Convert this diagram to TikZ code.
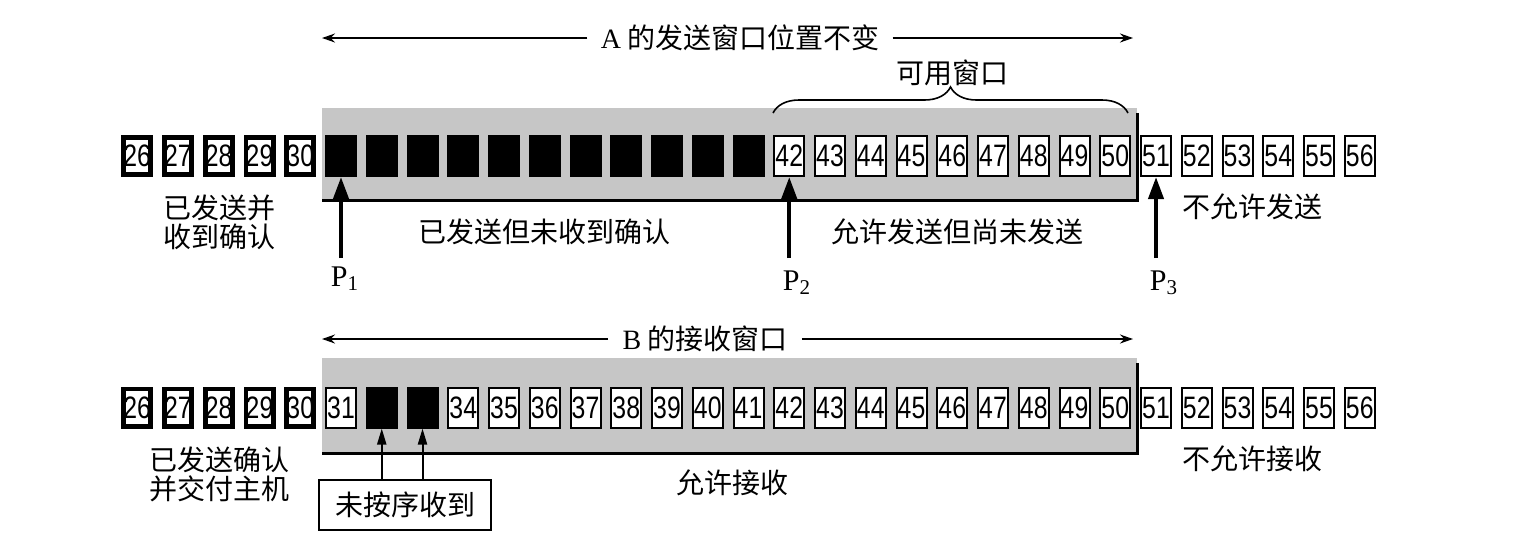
\documentclass[tikz,border=0pt]{standalone}
\usepackage{fontspec}
\setmainfont{Liberation Serif}
\newfontfamily\cjk{Noto Sans CJK SC}
\newfontfamily\numfont[FakeStretch=0.8]{Liberation Sans}
\usetikzlibrary{arrows.meta,decorations.pathreplacing}
\definecolor{winfill}{RGB}{198,198,198}
\newcommand\segnum[1]{\makebox[0pt]{#1}}
\begin{document}
\begin{tikzpicture}[x=0.5pt,y=-0.5pt,
  seg/.style={draw, fill=white, line width=1pt, minimum width=15pt, minimum height=20pt,
    inner sep=0pt, font=\numfont\fontsize{15.5}{15.5}\selectfont},
  acked/.style={seg, line width=2.4pt, minimum width=13.6pt, minimum height=18.6pt},
  sent/.style={seg, fill=black},
  lab/.style={inner sep=0pt, align=center, font=\cjk\fontsize{14}{14.5}\selectfont},
  plab/.style={inner sep=0pt, font=\fontsize{15}{15}\selectfont},
  span/.style={line width=0.8pt, -{Stealth[length=6.5pt,width=4.5pt]}},
  parrow/.style={line width=2pt, -{Triangle[length=11pt,width=7.5pt]}},
  oarrow/.style={line width=1pt, -{Triangle[length=8pt,width=4.5pt]}},
  edge/.style={line width=1.5pt}]
\useasboundingbox (0,0) rectangle (1534,558);

% shaded windows
\fill[winfill] (322,108) rectangle (1137,200);
\draw[edge] (322,200) -- (1137,200) -- (1137,113);
\fill[winfill] (322,358) rectangle (1137,453);
\draw[edge] (322,453) -- (1137,453) -- (1137,363);

% top row (sender A)
\foreach \n in {26,...,56}{
  \pgfmathsetmacro\cx{137.25+(\n-26)*40.75}
  \ifnum\n<31 \def\st{acked}\def\tx{\n}\else
    \ifnum\n<42 \def\st{sent}\def\tx{}\else\def\st{seg}\def\tx{\n}\fi\fi
  \node[\st] (a\n) at (\cx,156) {\segnum{\tx}};
}
% bottom row (receiver B)
\foreach \n in {26,...,56}{
  \pgfmathsetmacro\cx{137.25+(\n-26)*40.75}
  \ifnum\n<31 \def\st{acked}\def\tx{\n}\else
    \ifnum\n=32 \def\st{sent}\def\tx{}\else
      \ifnum\n=33 \def\st{sent}\def\tx{}\else\def\st{seg}\def\tx{\n}\fi\fi\fi
  \node[\st] (b\n) at (\cx,407.5) {\segnum{\tx}};
}

% top title
\node[lab, inner xsep=6.5pt] (atitle) at (740,38) {{\rmfamily A} 的发送窗口位置不变};
\coordinate (aL) at (322,38);
\coordinate (aR) at (1133,38);
\draw[span] (atitle.west) -- (aL);
\draw[span] (atitle.east) -- (aR);

% brace
\coordinate (brL) at (773,113);
\coordinate (brR) at (1128,113);
\draw[line width=0.8pt, decorate, decoration={brace, amplitude=13pt}] (brL) -- (brR);
\node[lab] (avail) at (952,73) {可用窗口};

% top labels
\node[lab] (ackA) at (219,222) {已发送并\\收到确认};
\node[lab] (sentA) at (544,232) {已发送但未收到确认};
\node[lab] (allowA) at (957,232) {允许发送但尚未发送};
\node[lab] (notA) at (1252,207) {不允许发送};

% pointers
\node[plab] (P1) at (345,279) {P\textsubscript{1}};
\node[plab] (P2) at (797,283) {P\textsubscript{2}};
\node[plab] (P3) at (1164,283) {P\textsubscript{3}};
\path (a31.south) ++(0,81) coordinate (p1b);
\path (a42.south) ++(0,81) coordinate (p2b);
\path (a51.south) ++(0,81) coordinate (p3b);
\draw[parrow] (p1b) -- (a31.south);
\draw[parrow] (p2b) -- (a42.south);
\draw[parrow] (p3b) -- (a51.south);

% bottom title
\node[lab, inner xsep=7pt] (btitle) at (705,339) {{\rmfamily B} 的接收窗口};
\coordinate (bL) at (322,339);
\coordinate (bR) at (1133,339);
\draw[span] (btitle.west) -- (bL);
\draw[span] (btitle.east) -- (bR);

% bottom labels
\node[lab] (ackB) at (219,474) {已发送确认\\并交付主机};
\node[lab] (allowB) at (732,483) {允许接收};
\node[lab] (notB) at (1252,459) {不允许接收};

% out-of-order box
\node[draw, line width=1pt, minimum width=86pt, minimum height=25pt, inner sep=0pt,
  font=\cjk\fontsize{14}{14}\selectfont] (ooo) at (405,505) {未按序收到};
\draw[oarrow] (ooo.north -| b32) -- (b32.south);
\draw[oarrow] (ooo.north -| b33) -- (b33.south);
\end{tikzpicture}
\end{document}
